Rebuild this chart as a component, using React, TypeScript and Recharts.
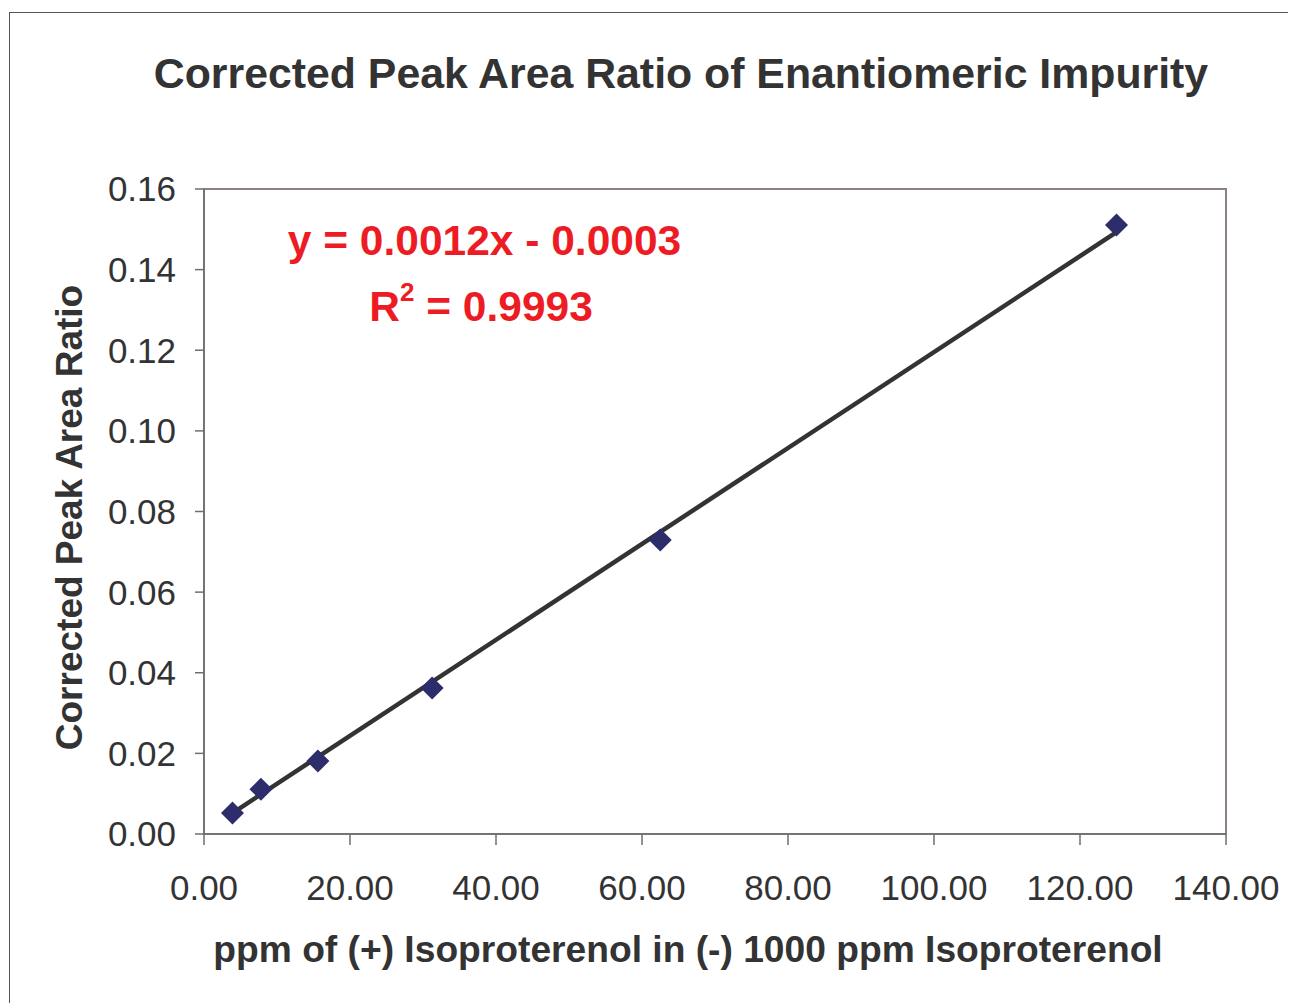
import React from "react";
import { ComposedChart, XAxis, YAxis, Scatter, Line, ReferenceArea } from "recharts";

const concentrations = [3.9, 7.8, 15.6, 31.25, 62.5, 125];
const ratios = [0.0052, 0.0111, 0.0181, 0.0362, 0.0729, 0.1511];
const trendX = [3.9, 125];
const trendY = [0.0052, 0.1493];
const xTicks = [0, 20, 40, 60, 80, 100, 120, 140];
const yTicks = [0, 0.02, 0.04, 0.06, 0.08, 0.1, 0.12, 0.14, 0.16];

const points = concentrations.map((x, i) => ({ x, y: ratios[i] }));
const trend = trendX.map((x, i) => ({ x, y: trendY[i] }));

const FONT = '"Liberation Sans", Arial, Helvetica, sans-serif';
const TEXT = "#333333";
const RED = "#ed1c24";

const Diamond = (props: any) => {
  const { cx, cy } = props;
  const r = 11.5;
  return (
    <polygon
      points={`${cx},${cy - r} ${cx + r},${cy} ${cx},${cy + r} ${cx - r},${cy}`}
      fill="#2d2d6b"
    />
  );
};

export default function App() {
  return (
    <div style={{ position: "relative", width: 1288, height: 995, overflow: "hidden", background: "#fff" }}>
      <div
        style={{
          position: "absolute",
          left: 1,
          top: 4,
          width: 1400,
          height: 1100,
          border: "1.5px solid #555",
          boxSizing: "border-box",
        }}
      />
      <div style={{ position: "absolute", left: 0, top: 0 }}>
        <ComposedChart width={1288} height={995} margin={{ top: 181, right: 70, left: 96, bottom: 109 }}>
          <ReferenceArea x1={0} x2={140} y1={0} y2={0.16} fill="none" stroke="#8c8282" strokeWidth={2} fillOpacity={0} />
          <XAxis
            dataKey="x"
            type="number"
            domain={[0, 140]}
            ticks={xTicks}
            allowDataOverflow
            tickFormatter={(v: number) => v.toFixed(2)}
            tick={{ fontSize: 35, fill: TEXT, fontFamily: FONT }}
            tickSize={11}
            tickMargin={30}
            height={60}
            stroke="#6e6e6e"
            strokeWidth={1.5}
          />
          <YAxis
            dataKey="y"
            type="number"
            domain={[0, 0.16]}
            ticks={yTicks}
            allowDataOverflow
            tickFormatter={(v: number) => v.toFixed(2)}
            tick={{ fontSize: 35, fill: TEXT, fontFamily: FONT }}
            tickSize={9}
            tickMargin={19}
            width={100}
            stroke="#6e6e6e"
            strokeWidth={1.5}
          />
          <Scatter data={points} dataKey="y" shape={<Diamond />} isAnimationActive={false} />
          <Line
            data={trend}
            dataKey="y"
            type="linear"
            stroke="#333333"
            strokeWidth={4.5}
            dot={false}
            activeDot={false}
            isAnimationActive={false}
          />
        </ComposedChart>
      </div>
      <svg
        width={1288}
        height={995}
        style={{ position: "absolute", left: 0, top: 0, pointerEvents: "none" }}
        fontFamily={FONT}
      >
        <text x={673} y={80} textAnchor="middle" fontSize={42.8} fontWeight="bold" fill={TEXT}>
          Corrected Peak Area Ratio of Enantiomeric Impurity
        </text>
        <text x={476.5} y={247} textAnchor="middle" fontSize={42.5} fontWeight="bold" fill={RED}>
          y = 0.0012x - 0.0003
        </text>
        <text x={473} y={313} textAnchor="middle" fontSize={42.5} fontWeight="bold" fill={RED}>
          R<tspan fontSize={26} dy={-20}>2</tspan>
          <tspan dy={20}> = 0.9993</tspan>
        </text>
        <text
          x={74}
          y={509.5}
          transform="rotate(-90, 74, 509.5)"
          textAnchor="middle"
          fontSize={37}
          fontWeight="bold"
          fill={TEXT}
        >
          Corrected Peak Area Ratio
        </text>
        <text x={680} y={954} textAnchor="middle" fontSize={37.2} fontWeight="bold" fill={TEXT}>
          ppm of (+) Isoproterenol in (-) 1000 ppm Isoproterenol
        </text>
      </svg>
    </div>
  );
}
